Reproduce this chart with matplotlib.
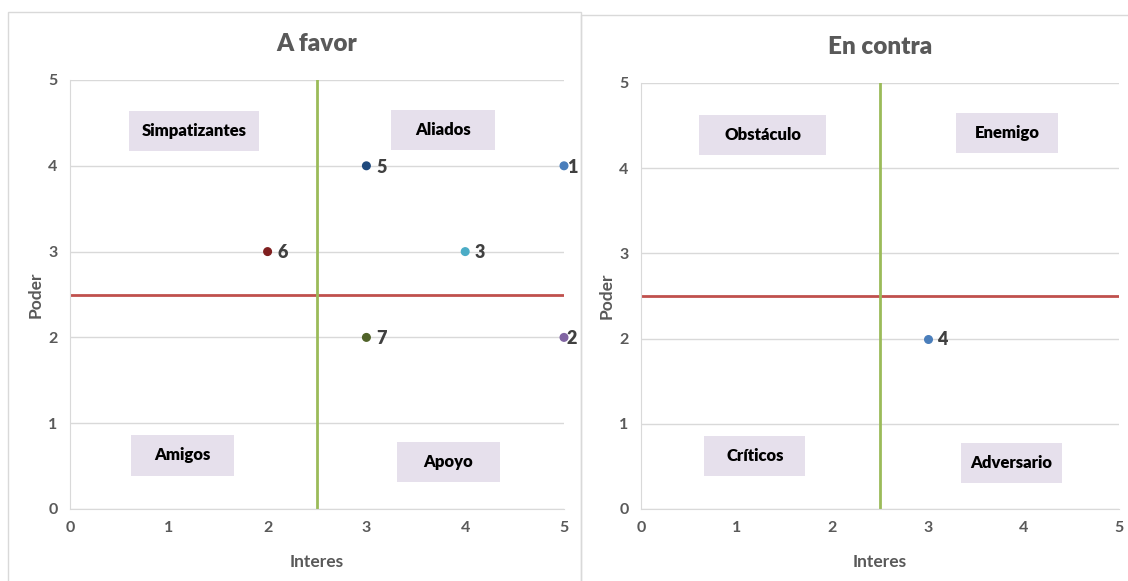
import matplotlib.pyplot as plt
from matplotlib.patches import Rectangle

plt.rcParams['font.family'] = ['Lato', 'DejaVu Sans']

# stakeholder positions (interes, poder)
favor_ids = ['1', '2', '3', '5', '6', '7']
favor_interes = [5, 5, 4, 3, 2, 3]
favor_poder = [4, 2, 3, 4, 3, 2]
favor_colors = ['#4A7EBB', '#8064A2', '#4BACC6', '#1F497D', '#7F1F1F', '#4F6228']

contra_ids = ['4']
contra_interes = [3]
contra_poder = [2]
contra_colors = ['#4A7EBB']

favor_quadrants = ['Simpatizantes', 'Aliados', 'Amigos', 'Apoyo']
contra_quadrants = ['Obstáculo', 'Enemigo', 'Críticos', 'Adversario']

# quadrant label boxes: (x0, x1, y0, y1) in data units
favor_boxes = [(0.60, 1.91, 4.17, 4.64), (3.25, 4.30, 4.18, 4.65),
               (0.62, 1.66, 0.39, 0.86), (3.31, 4.35, 0.32, 0.78)]
contra_boxes = [(0.61, 1.94, 4.16, 4.62), (3.30, 4.36, 4.18, 4.65),
                (0.66, 1.72, 0.39, 0.86), (3.35, 4.40, 0.31, 0.78)]

GRID = '#D9D9D9'
TICK = '#595959'

fig = plt.figure(figsize=(11.28, 5.81), dpi=100)

# chart frames
fig.patches.append(Rectangle((8 / 1128, -0.01), (581 - 8) / 1128, 1 - 12 / 581 + 0.01,
                             transform=fig.transFigure, fill=False, edgecolor=GRID, lw=1))
fig.patches.append(Rectangle((581 / 1128, -0.01), 0.5, 1 - 15 / 581 + 0.01,
                             transform=fig.transFigure, fill=False, edgecolor=GRID, lw=1))

ax1 = fig.add_axes([70 / 1128, 1 - 509 / 581, (564 - 70) / 1128, (509 - 80) / 581])
ax2 = fig.add_axes([641 / 1128, 1 - 509 / 581, (1119 - 641) / 1128, (509 - 83) / 581])


def draw_panel(ax, title, ids, xs, ys, colors, quadrants, boxes):
    ax.set_xlim(0, 5)
    ax.set_ylim(0, 5)
    ax.set_xticks(range(6))
    ax.set_yticks(range(6))
    ax.tick_params(length=0, labelsize=11.5, colors=TICK, pad=9)
    for lab in ax.get_xticklabels() + ax.get_yticklabels():
        lab.set_fontweight('bold')
    ax.yaxis.grid(True, color=GRID, lw=1)
    ax.set_axisbelow(True)
    for s in ['top', 'right']:
        ax.spines[s].set_visible(False)
    for s in ['left', 'bottom']:
        ax.spines[s].set_color(GRID)

    ax.axhline(2.5, color='#C0504D', lw=2, zorder=2)
    ax.axvline(2.5, color='#9BBB59', lw=2, zorder=2)

    for (x0, x1, y0, y1), name in zip(boxes, quadrants):
        ax.add_patch(Rectangle((x0, y0), x1 - x0, y1 - y0, facecolor='#E6E0EC',
                               edgecolor='none', zorder=3))
        ax.text((x0 + x1) / 2, (y0 + y1) / 2, name, ha='center', va='center',
                fontsize=12, fontweight=800, color='black', zorder=4)

    ax.scatter(xs, ys, s=30, c=colors, zorder=5, clip_on=False)
    for pid, x, y in zip(ids, xs, ys):
        dx = 2 if x == 5 else 7
        ax.annotate(pid, (x, y), xytext=(dx, -1), textcoords='offset points',
                    ha='left', va='center', fontsize=13, fontweight=800,
                    color='#404040', annotation_clip=False)

    ax.set_title(title, fontsize=17.5, fontweight=800, color=TICK, pad=21)
    ax.set_xlabel('Interes', fontsize=12.5, fontweight='bold', color=TICK, labelpad=13.5)
    ax.set_ylabel('Poder', fontsize=12.5, fontweight='bold', color=TICK, labelpad=3)


draw_panel(ax1, 'A favor', favor_ids, favor_interes, favor_poder, favor_colors,
           favor_quadrants, favor_boxes)
draw_panel(ax2, 'En contra', contra_ids, contra_interes, contra_poder, contra_colors,
           contra_quadrants, contra_boxes)

fig.savefig('out.png', dpi=100)
